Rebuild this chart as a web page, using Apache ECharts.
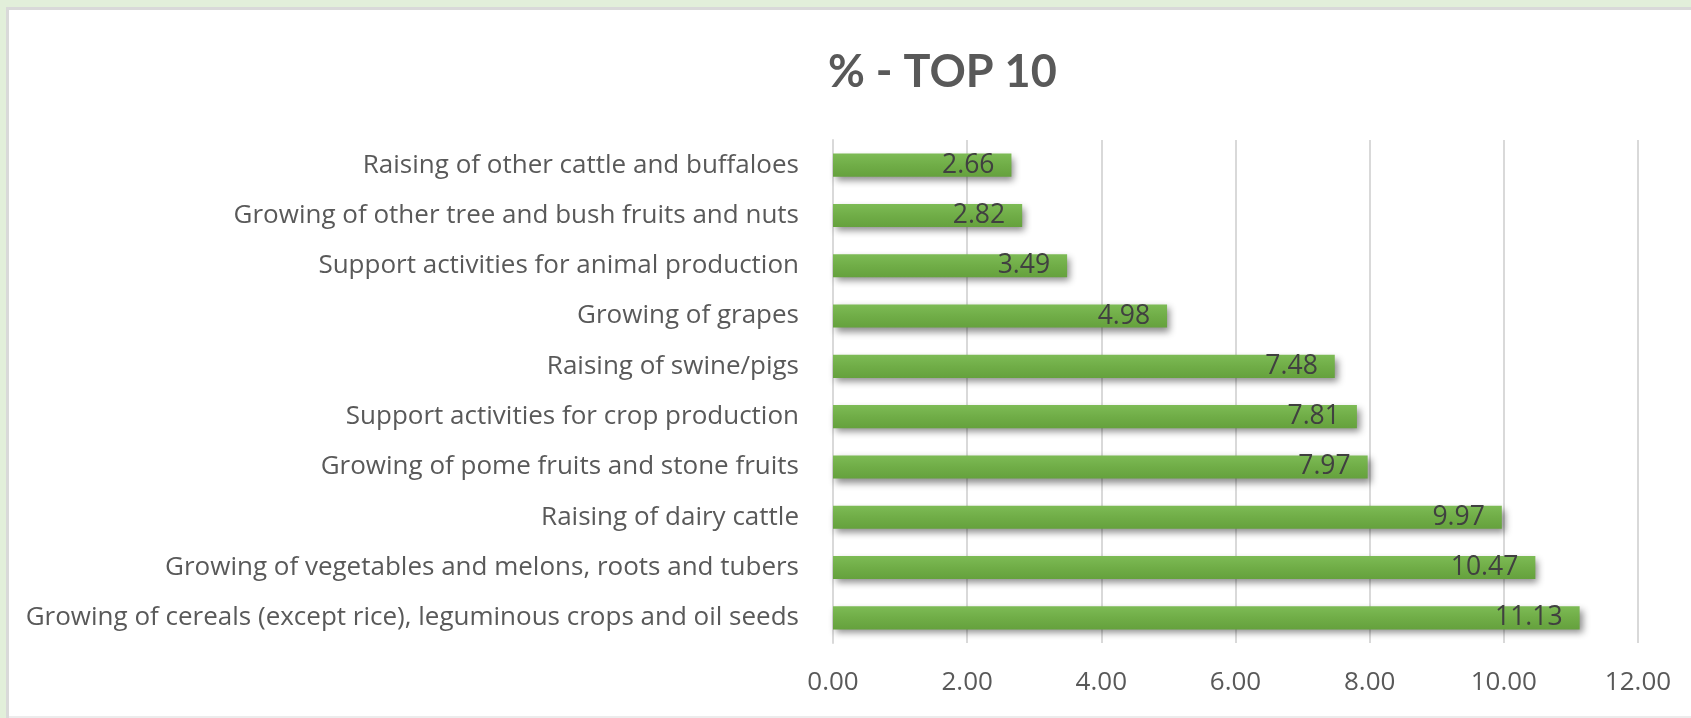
<!DOCTYPE html>
<html>
<head>
<meta charset="utf-8">
<script src="https://cdn.jsdelivr.net/npm/echarts@6/dist/echarts.min.js"></script>
<style>
html,body{margin:0;padding:0;background:#fff;}
#chart{width:1691px;height:718px;}
</style>
</head>
<body>
<div id="chart"></div>
<script>
const titleText = '% - TOP 10';
const categories = [
  'Growing of cereals (except rice), leguminous crops and oil seeds',
  'Growing of vegetables and melons, roots and tubers',
  'Raising of dairy cattle',
  'Growing of pome fruits and stone fruits',
  'Support activities for crop production',
  'Raising of swine/pigs',
  'Growing of grapes',
  'Support activities for animal production',
  'Growing of other tree and bush fruits and nuts',
  'Raising of other cattle and buffaloes'
];
const values = [11.13, 10.47, 9.97, 7.97, 7.81, 7.48, 4.98, 3.49, 2.82, 2.66];
const axisMin = 0, axisMax = 12, axisStep = 2;

const chart = echarts.init(document.getElementById('chart'), null, {renderer: 'canvas'});
const font = 'Lato, "Open Sans", sans-serif';
const font2 = '"Open Sans", Lato, sans-serif';
chart.setOption({
  backgroundColor: '#ffffff',
  animation: false,
  graphic: [
    {type: 'rect', shape: {x: 0, y: 0, width: 1691, height: 7}, style: {fill: '#e2efda'}, silent: true},
    {type: 'rect', shape: {x: 0, y: 0, width: 6, height: 718}, style: {fill: '#e2efda'}, silent: true},
    {type: 'rect', shape: {x: 6, y: 7, width: 1685, height: 3}, style: {fill: '#d9d9d9'}, silent: true},
    {type: 'rect', shape: {x: 6, y: 7, width: 3, height: 711}, style: {fill: '#d9d9d9'}, silent: true},
    {type: 'rect', shape: {x: 9, y: 716, width: 1682, height: 2}, style: {fill: '#ececec'}, silent: true}
  ],
  title: {
    text: titleText,
    left: 823,
    top: 45,
    textStyle: {fontFamily: font, fontWeight: 'bold', fontSize: 45, color: '#595959'}
  },
  grid: {left: 833, right: 53, top: 140, bottom: 75, containLabel: false},
  xAxis: {
    type: 'value',
    min: axisMin, max: axisMax, interval: axisStep,
    axisLine: {show: false},
    axisTick: {show: false},
    splitLine: {show: true, lineStyle: {color: '#d9d9d9', width: 2}},
    axisLabel: {
      margin: 27,
      color: '#595959',
      fontFamily: font2,
      fontSize: 26,
      formatter: v => v.toFixed(2)
    }
  },
  yAxis: {
    type: 'category',
    data: categories,
    axisLine: {show: true, lineStyle: {color: '#d9d9d9', width: 2}},
    axisTick: {show: false},
    axisLabel: {margin: 34, color: '#595959', fontFamily: font2, fontSize: 26}
  },
  series: [{
    type: 'bar',
    data: values,
    barCategoryGap: '54%',
    itemStyle: {
      color: new echarts.graphic.LinearGradient(0, 0, 0, 1, [
        {offset: 0, color: '#7dbb55'},
        {offset: 0.5, color: '#70ad47'},
        {offset: 1, color: '#65a13d'}
      ]),
      shadowColor: 'rgba(0,0,0,0.45)',
      shadowBlur: 7,
      shadowOffsetX: 3,
      shadowOffsetY: 4
    },
    label: {
      show: true,
      position: 'insideRight',
      distance: 17,
      color: '#404040',
      fontFamily: font2,
      fontSize: 26.5,
      formatter: p => p.value.toFixed(2)
    }
  }]
});
</script>
</body>
</html>
